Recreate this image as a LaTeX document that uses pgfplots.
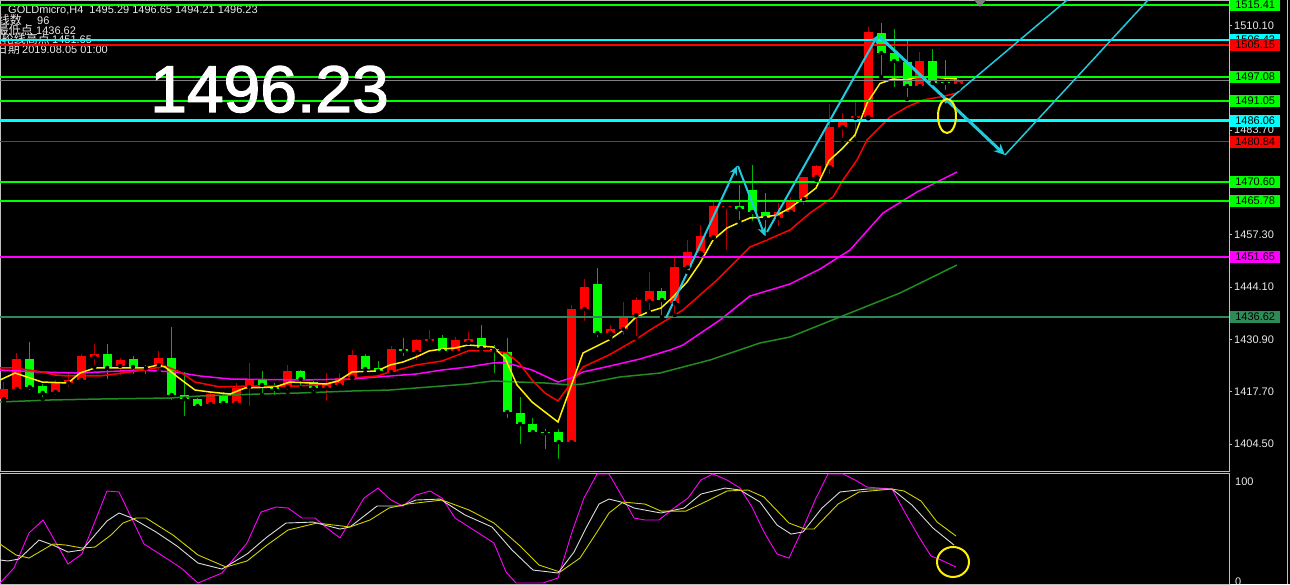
\documentclass[border=0pt]{standalone}
\usepackage{fontspec}
\setmainfont{Liberation Sans}
\newfontfamily\cjk{Noto Sans CJK SC}
\newfontfamily\bignum[FakeBold=2]{Liberation Sans}
\usepackage{pgfplots}
\pgfplotsset{compat=1.18}
\usepackage{pgfplotstable}
\usetikzlibrary{arrows.meta,shapes.geometric}

\definecolor{upred}{HTML}{FF0000}
\definecolor{dngreen}{HTML}{00FF00}
\definecolor{wickred}{HTML}{B00000}
\definecolor{wickgreen}{HTML}{00B400}
\definecolor{lvlcyan}{HTML}{00FFFF}
\definecolor{arrcyan}{HTML}{22C8DC}
\definecolor{seagrn}{HTML}{2E8B57}
\definecolor{magma}{HTML}{FF00FF}
\definecolor{maslow}{HTML}{228B22}
\definecolor{axgray}{HTML}{C0C0C0}
\definecolor{txtwhite}{HTML}{EAEAEA}
\definecolor{stoyellow}{HTML}{D2D200}
\definecolor{stowhite}{HTML}{DCDCDC}

% candles: i = bar index, x position = 4 + 12.9*i px
\pgfplotstableread{
i o h l c
0 1415.85 1420.14 1415.10 1418.38
1 1418.38 1427.46 1417.87 1425.95
4 1417.62 1420.65 1416.36 1420.14
5 1419.89 1422.41 1418.38 1420.65
6 1420.65 1427.21 1419.64 1426.71
7 1426.45 1429.73 1423.93 1427.21
9 1424.18 1426.20 1421.41 1425.70
12 1424.43 1427.97 1422.67 1426.20
16 1414.59 1417.37 1413.58 1417.11
18 1414.84 1419.89 1413.83 1418.63
19 1418.88 1424.94 1413.58 1420.65
22 1418.88 1424.43 1417.62 1422.92
25 1418.63 1422.41 1414.84 1419.64
26 1419.39 1422.41 1418.88 1421.15
27 1421.41 1428.22 1421.15 1426.96
30 1422.67 1429.23 1422.41 1428.47
32 1427.72 1431.00 1425.19 1430.74
33 1430.49 1433.27 1429.99 1431.00
35 1427.97 1431.50 1427.46 1430.74
36 1430.24 1432.76 1429.99 1431.00
44 1405.00 1439.58 1404.50 1438.57
45 1438.57 1446.14 1435.03 1444.12
47 1432.51 1434.53 1431.25 1433.52
48 1433.52 1440.34 1431.50 1436.55
49 1437.05 1441.60 1431.25 1440.84
50 1440.59 1447.91 1437.81 1443.11
52 1440.08 1451.69 1437.05 1449.17
53 1449.17 1455.98 1447.91 1452.96
54 1452.70 1459.77 1452.20 1456.99
55 1456.74 1465.58 1456.49 1464.57
56 1464.31 1464.80 1452.96 1464.57
60 1461.54 1465.32 1459.01 1463.05
61 1463.05 1466.84 1462.29 1465.58
62 1466.33 1472.00 1464.31 1471.89
63 1471.89 1474.80 1471.13 1474.66
64 1474.41 1490.31 1472.14 1484.51
65 1484.51 1488.04 1481.22 1486.02
66 1486.78 1491.32 1481.22 1487.28
67 1487.03 1509.75 1486.70 1508.48
71 1494.85 1503.44 1494.60 1501.16
74 1495.29 1496.65 1494.21 1496.23
}\upcandles

\pgfplotstableread{
i o h l c
2 1425.95 1430.24 1417.62 1418.88
3 1419.13 1419.64 1415.85 1417.37
8 1427.21 1429.73 1420.40 1423.68
10 1425.95 1426.71 1421.66 1423.93
11 1423.93 1424.43 1421.66 1423.60
13 1426.20 1434.03 1415.10 1416.86
14 1416.86 1422.67 1411.06 1415.85
15 1415.85 1416.10 1413.58 1414.09
17 1416.61 1417.62 1413.83 1414.84
20 1420.90 1422.92 1416.86 1419.39
21 1419.13 1419.89 1416.36 1418.38
23 1422.92 1423.10 1418.63 1420.90
24 1420.14 1420.40 1417.37 1418.63
28 1426.71 1427.21 1422.41 1423.42
29 1423.68 1425.44 1422.67 1422.92
31 1428.47 1431.25 1426.20 1427.97
34 1431.25 1432.01 1427.72 1427.97
37 1431.25 1434.53 1427.72 1428.72
38 1428.47 1429.48 1421.91 1428.10
39 1427.72 1431.25 1410.55 1412.57
40 1412.32 1416.36 1403.99 1409.54
41 1409.54 1411.06 1407.27 1407.52
42 1407.52 1408.28 1402.73 1407.20
43 1407.52 1408.28 1400.20 1405.00
46 1444.88 1448.92 1431.00 1432.51
51 1443.11 1443.87 1436.55 1440.84
57 1464.57 1469.87 1460.53 1463.81
58 1468.60 1474.91 1460.28 1463.05
59 1463.05 1467.85 1456.49 1461.54
68 1508.23 1510.75 1497.13 1503.18
69 1503.18 1509.24 1494.10 1501.16
70 1500.91 1506.72 1491.57 1494.85
72 1501.16 1504.19 1495.60 1495.61
73 1495.86 1501.42 1493.34 1495.61
}\dncandles

\newcommand{\lvl}[3]{\addplot[#2, line width=#3, forget plot] coordinates {(0,#1) (1229,#1)};}
\newcommand{\lbl}[3]{\node[anchor=west, xshift=1pt, fill=#2, text=black, minimum width=50pt, minimum height=12pt, inner sep=0pt, font=\fontsize{11}{11}\selectfont] at (#1) {#3};}

\begin{document}
\begin{tikzpicture}
\useasboundingbox (0pt,0pt) rectangle (1290pt,584pt);
\clip (0pt,0pt) rectangle (1290pt,584pt);
\fill[black] (0pt,0pt) rectangle (1290pt,584pt);

% header text
\begin{scope}[every node/.style={text=txtwhite, font=\fontsize{11}{11}\selectfont, inner sep=0pt}]
\node[anchor=base west] at (8pt,570pt) {GOLDmicro,H4\ \ 1495.29 1496.65 1494.21 1496.23};
\node[anchor=base east, font=\fontsize{12}{12}\cjk] at (22pt,559pt) {线数};
\node[anchor=base west] at (37pt,559pt) {96};
\node[anchor=base east, font=\fontsize{12}{12}\cjk] at (33pt,549pt) {最低点};
\node[anchor=base west] at (36pt,549pt) {1436.62};
\node[anchor=base east, font=\fontsize{12}{12}\cjk] at (50pt,540pt) {上轮线高点};
\node[anchor=base west] at (52pt,540pt) {1451.65};
\node[anchor=base east, font=\fontsize{12}{12}\cjk] at (20pt,530pt) {日期};
\node[anchor=base west] at (22pt,530pt) {2019.08.05 01:00};
\end{scope}

\begin{axis}[
    at={(0pt,113pt)}, anchor=south west,
    width=1229pt, height=471pt, scale only axis,
    xmin=0, xmax=1229, ymin=1397.68, ymax=1516.56,
    xtick=\empty,
    ytick={1404.5,1417.7,1430.9,1444.1,1457.3,1470.5,1483.7,1496.9,1510.1},
    yticklabel pos=right, ytick pos=right,
    tick align=outside, major tick length=3pt,
    tick style={axgray, line width=0.8pt},
    axis line style={axgray, line width=0.8pt},
    yticklabel style={font=\fontsize{11}{11}\selectfont, text=txtwhite, inner sep=2pt,
        /pgf/number format/fixed, /pgf/number format/fixed zerofill,
        /pgf/number format/precision=2, /pgf/number format/1000 sep={},
        /pgf/number format/assume math mode=true},
]
% wicks
\addplot[only marks, mark=none, forget plot, error bars/.cd, y dir=plus, y explicit, error mark=none,
    error bar style={wickred, line width=1pt}]
    table[x expr=4+12.9*\thisrow{i}, y=l, y error plus expr=\thisrow{h}-\thisrow{l}] {\upcandles};
\addplot[only marks, mark=none, forget plot, error bars/.cd, y dir=plus, y explicit, error mark=none,
    error bar style={wickgreen, line width=1pt}]
    table[x expr=4+12.9*\thisrow{i}, y=l, y error plus expr=\thisrow{h}-\thisrow{l}] {\dncandles};
% bodies
\addplot[only marks, mark=none, forget plot, error bars/.cd, y dir=plus, y explicit, error mark=none,
    error bar style={upred, line width=9pt}]
    table[x expr=4+12.9*\thisrow{i}, y=o, y error plus expr=\thisrow{c}-\thisrow{o}] {\upcandles};
\addplot[only marks, mark=none, forget plot, error bars/.cd, y dir=plus, y explicit, error mark=none,
    error bar style={dngreen, line width=9pt}]
    table[x expr=4+12.9*\thisrow{i}, y=c, y error plus expr=\thisrow{o}-\thisrow{c}] {\dncandles};

% moving averages
\addplot[maslow, line width=1.5pt] coordinates {
(0,1415.10) (50,1415.60) (100,1415.85) (170,1416.10) (200,1416.61) (260,1417.11) (300,1417.37)
(326,1417.62) (352,1417.87) (390,1418.12) (416,1418.63) (442,1419.13) (468,1419.64) (493,1420.40)
(519,1420.14) (545,1419.89) (571,1419.39) (583,1419.64) (620,1421.41) (660,1422.41) (710,1425.70)
(760,1429.99) (790,1431.50) (820,1434.53) (850,1437.56) (900,1442.61) (957,1449.67)};
\addplot[magma, line width=1.5pt] coordinates {
(0,1423.17) (40,1422.67) (75,1422.41) (100,1422.67) (140,1423.17) (175,1422.67) (200,1421.66)
(230,1420.90) (300,1420.65) (352,1420.90) (377,1421.41) (416,1422.16) (442,1423.17) (468,1423.93)
(493,1424.94) (507,1424.94) (532,1423.17) (558,1420.14) (571,1421.15) (583,1422.67) (610,1424.18)
(640,1425.95) (670,1428.22) (683,1429.48) (720,1435.79) (750,1441.85) (790,1444.88) (820,1448.66)
(850,1453.46) (883,1462.80) (917,1468.10) (957,1473.15)};
\addplot[upred, line width=1.5pt] coordinates {
(0,1423.68) (15,1423.68) (42,1422.67) (55,1421.91) (68,1421.66) (100,1421.66) (145,1423.17)
(165,1424.18) (180,1422.67) (195,1420.14) (220,1418.88) (248,1419.13) (300,1419.13) (326,1419.64)
(352,1421.15) (377,1421.66) (390,1422.67) (416,1424.43) (442,1425.44) (468,1427.97) (493,1427.97)
(507,1427.46) (519,1424.94) (532,1420.65) (545,1417.37) (558,1415.35) (571,1419.89) (583,1423.93)
(609,1426.96) (635,1430.74) (650,1433.27) (683,1438.32) (700,1442.10) (717,1445.89) (750,1454.22)
(767,1455.98) (790,1458.51) (810,1462.80) (833,1466.84) (843,1471.13) (857,1476.18) (867,1481.22)
(890,1487.03) (907,1489.55) (923,1491.32) (940,1492.08) (957,1493.09)};
\addplot[yellow, line width=1.5pt] coordinates {
(0,1420.65) (15,1422.41) (42,1420.14) (68,1419.89) (80,1422.41) (95,1423.68) (145,1423.68)
(158,1424.43) (165,1423.93) (175,1421.91) (195,1418.12) (210,1417.62) (230,1417.11) (245,1418.63)
(275,1418.88) (290,1420.14) (310,1419.89) (326,1419.64) (338,1420.40) (352,1422.67) (377,1422.92)
(390,1424.43) (403,1425.19) (416,1426.45) (429,1427.97) (442,1428.47) (455,1428.72) (468,1429.48)
(481,1429.23) (493,1428.98) (505,1426.20) (517,1419.40) (532,1415.10) (545,1412.57) (558,1410.05)
(583,1427.46) (597,1429.23) (609,1430.74) (622,1433.02) (635,1436.30) (648,1437.81) (661,1438.82)
(673,1441.60) (687,1445.38) (700,1450.18) (713,1455.98) (727,1459.01) (738,1460.27) (750,1461.54)
(764,1461.79) (777,1462.29) (790,1464.06) (802,1466.33) (816,1469.11) (829,1476.00) (842,1479.00)
(855,1482.50) (867,1490.50) (880,1495.50) (893,1496.62) (906,1496.37) (918,1497.13) (932,1497.13)
(944,1496.87) (957,1496.62)};

% horizontal levels
\lvl{1515.41}{dngreen}{2pt}
\lvl{1506.43}{lvlcyan}{2pt}
\lvl{1505.15}{upred}{1.5pt}
\lvl{1497.08}{dngreen}{2pt}
\lvl{1496.23}{gray}{0.8pt}
\lvl{1491.05}{dngreen}{1.5pt}
\lvl{1486.06}{lvlcyan}{3pt}
\lvl{1480.84}{upred}{1.5pt}
\lvl{1470.60}{dngreen}{1.5pt}
\lvl{1465.78}{dngreen}{1.5pt}
\lvl{1451.65}{magma}{1.5pt}
\lvl{1436.62}{seagrn}{2pt}

% hand drawn trend arrows
\draw[arrcyan, line width=2pt, -{Stealth[length=9pt,width=8pt]}] (axis cs:666,1436.30) -- (axis cs:737,1474.66);
\draw[arrcyan, line width=2pt, -{Stealth[length=9pt,width=8pt]}] (axis cs:738,1474.66) -- (axis cs:765,1456.99);
\draw[arrcyan, line width=2pt, -{Stealth[length=9pt,width=8pt]}] (axis cs:767,1458.00) -- (axis cs:878,1507.73);
\draw[arrcyan, line width=3pt, -{Stealth[length=11pt,width=10pt]}] (axis cs:880,1507.22) -- (axis cs:1005,1477.44);
\draw[arrcyan, line width=1.5pt] (axis cs:945,1490.56) -- (axis cs:1080,1519.30);
\draw[arrcyan, line width=1.5pt] (axis cs:1005,1477.44) -- (axis cs:1160,1519.84);
\node[draw=yellow, line width=2pt, ellipse, minimum width=18pt, minimum height=34pt, inner sep=0pt] at (axis cs:947,1487.28) {};

\coordinate (p1) at (axis cs:1229,1515.41);
\coordinate (p2) at (axis cs:1229,1506.43);
\coordinate (p3) at (axis cs:1229,1505.15);
\coordinate (p4) at (axis cs:1229,1497.08);
\coordinate (p5) at (axis cs:1229,1491.05);
\coordinate (p6) at (axis cs:1229,1486.06);
\coordinate (p7) at (axis cs:1229,1480.84);
\coordinate (p8) at (axis cs:1229,1470.60);
\coordinate (p9) at (axis cs:1229,1465.78);
\coordinate (p10) at (axis cs:1229,1451.65);
\coordinate (p11) at (axis cs:1229,1436.62);
\end{axis}

% stochastic panel
\begin{axis}[
    at={(0pt,0pt)}, anchor=south west,
    width=1229pt, height=111pt, scale only axis,
    xmin=0, xmax=1229, ymin=-0.9, ymax=100.9,
    xtick=\empty, ytick=\empty,
    axis line style={axgray, line width=0.8pt},
]
\addplot[magma, line width=0.9pt] coordinates {
(0,0) (14,13.8) (29,45.9) (43,57.8) (68,17.4) (82,26.6) (107,84.4) (119,83.5) (144,35.8) (169,21.1)
(181,13.8) (198,0) (222,9.2) (247,36.7) (261,65.1) (276,69.7) (288,68.8) (302,59.6) (315,59.6)
(327,50.4) (340,41.3) (364,77.9) (378,87.1) (391,76.1) (403,70.6) (416,80.7) (430,84.4) (442,77.9)
(455,59.6) (469,51.4) (494,36.7) (506,10.1) (516,0) (543,0) (558,4.6) (572,46.8) (584,77.9)
(597,100) (609,100) (623,77.9) (634,59.6) (645,57.8) (659,57.8) (674,68.8) (688,77.9) (701,94.5)
(713,100) (727,94.5) (740,87.1) (752,69.7) (764,46.8) (777,26.6) (789,22.9) (803,50.4) (816,77.9)
(828,100) (843,100) (855,94.5) (867,88.0) (892,86.2) (908,59.6) (919,42.2) (931,24.8) (941,21.1)
(956,14.7)};
\addplot[stowhite, line width=0.9pt] coordinates {
(0,21.1) (8,20.2) (19,22.0) (39,39.4) (53,34.8) (68,28.4) (82,30.3) (107,56.9) (119,64.2) (132,59.6)
(156,46.8) (177,33.9) (198,18.3) (222,12.8) (247,26.6) (267,42.2) (286,55.0) (313,55.9) (340,49.5)
(350,51.4) (377,70.6) (401,70.6) (416,76.1) (440,77.0) (465,62.4) (492,51.4) (512,30.3) (533,11.9)
(558,9.2) (574,28.4) (586,50.4) (599,72.4) (609,77.0) (621,74.3) (634,68.8) (645,66.9) (661,64.2)
(684,68.8) (701,81.6) (725,87.1) (740,85.3) (760,74.3) (777,53.2) (791,44.9) (803,46.8) (822,68.8)
(840,83.5) (867,86.2) (892,86.2) (912,71.5) (933,50.4) (954,34.8)};
\addplot[stoyellow, line width=0.9pt] coordinates {
(0,35.8) (16,25.7) (29,22.9) (53,35.8) (66,34.8) (82,32.1) (95,33.0) (111,44.0) (123,55.0) (136,59.6)
(146,59.6) (173,44.0) (198,25.7) (226,14.7) (247,20.2) (267,34.8) (288,48.6) (317,55.0) (350,51.4)
(370,57.8) (389,68.8) (407,72.4) (442,76.1) (469,67.0) (494,55.0) (519,34.8) (539,16.5) (560,10.1)
(580,22.9) (597,46.8) (609,64.2) (623,74.3) (645,72.4) (661,66.0) (686,66.0) (707,75.2) (727,84.4)
(748,85.3) (764,78.8) (789,55.0) (805,49.5) (814,49.5) (838,72.4) (859,83.5) (892,86.2) (904,84.4)
(921,75.2) (937,56.0) (956,43.1)};
\node[draw=yellow, line width=2pt, ellipse, minimum width=32pt, minimum height=30pt, inner sep=0pt] at (axis cs:953,19.3) {};
\end{axis}

% right side labels of the levels
\lbl{p2}{lvlcyan}{1506.43}
\lbl{p3}{upred}{1505.15}
\lbl{p1}{dngreen}{1515.41}
\lbl{p4}{dngreen}{1497.08}
\lbl{p5}{dngreen}{1491.05}
\lbl{p6}{lvlcyan}{1486.06}
\lbl{p7}{upred}{1480.84}
\lbl{p8}{dngreen}{1470.60}
\lbl{p9}{dngreen}{1465.78}
\lbl{p10}{magma}{1451.65}
\lbl{p11}{seagrn}{1436.62}

\node[anchor=west, text=txtwhite, inner sep=0pt, font=\fontsize{11}{11}\selectfont] at (1235pt,102pt) {100};
\node[anchor=west, text=txtwhite, inner sep=0pt, font=\fontsize{11}{11}\selectfont] at (1235pt,2pt) {0};
\draw[axgray, line width=0.8pt] (1287pt,0pt) -- (1287pt,584pt);
\fill[gray] (974pt,584pt) -- (986pt,584pt) -- (980pt,577pt) -- cycle;

\node[anchor=base west, text=white, inner sep=0pt, font=\fontsize{66}{66}\bignum] at (150pt,472pt) {1496.23};
\end{tikzpicture}
\end{document}
